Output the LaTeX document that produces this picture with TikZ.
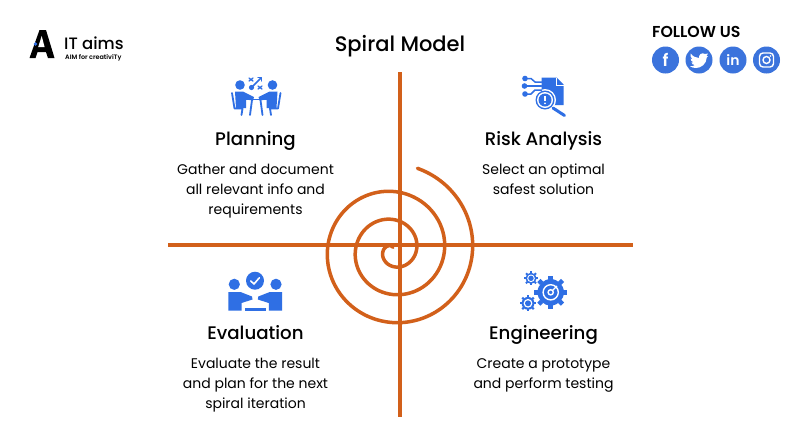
\documentclass[tikz,border=0pt]{standalone}
\usepackage{fontspec}
\setmainfont{Poppins}
\newfontfamily\popm{Poppins Medium}
\newfontfamily\pops{Poppins SemiBold}
\definecolor{org}{HTML}{D2601A}
\definecolor{blu}{HTML}{2F6FE4}
\definecolor{soc}{HTML}{3B73DC}
\tikzset{
  heading/.style={font=\popm\fontsize{18.2}{20}\selectfont,text=black,inner sep=0pt,anchor=base},
  bodytext/.style={font=\fontsize{14}{20}\selectfont,text=black,align=center,inner sep=0pt,anchor=north},
  axisline/.style={org,line width=4.2pt},
  iconline/.style={blu,line width=1.8pt,line cap=round,line join=round},
  soccircle/.style={circle,fill=soc,minimum size=27pt,inner sep=0pt,text=white},
}
\newcommand{\gearicon}[4]{% x y radius teeth
  \fill[blu] (#1,#2) circle (#3);
  \foreach \a in {1,...,#4}{
    \fill[blu,shift={(#1,#2)},rotate=\a*360/#4] (#3-0.5,-#3*0.17) rectangle (#3*1.27,#3*0.17);
  }
}
\begin{document}
\begin{tikzpicture}[x=1pt,y=-1pt]
\useasboundingbox (0,0) rectangle (800,437);
\fill[white] (0,0) rectangle (800,437);
% axes
\coordinate (hl) at (168,244.7); \coordinate (hr) at (633,244.7);
\coordinate (vt) at (399.8,72); \coordinate (vb) at (399.8,417);
\draw[axisline] (hl) -- (hr);
\draw[axisline] (vt) -- (vb);
% spiral
\draw[org,line width=3.5pt,line cap=round,line join=round,smooth,samples=240,domain=1.6:20.13,variable=\t]
  plot ({393+(4.46*\t-4.5)*cos(\t r)},{250-(4.46*\t-4.5)*sin(\t r)});
% title
\node[font=\popm\fontsize{21}{22}\selectfont,inner sep=0pt] (title) at (400,46.5) {Spiral Model};
% quadrants
\node[heading] (pl) at (255.5,145) {Planning};
\node[bodytext] (plt) at (255.5,164) {Gather and document\\all relevant info and\\requirements};
\node[heading] (ri) at (543.5,145) {Risk Analysis};
\node[bodytext] (rit) at (543.5,164) {Select an optimal\\safest solution};
\node[heading] (ev) at (255.5,339) {Evaluation};
\node[bodytext] (evt) at (255.5,358) {Evaluate the result\\and plan for the next\\spiral iteration};
\node[heading] (en) at (543.5,339) {Engineering};
\node[bodytext] (ent) at (543.5,358) {Create a prototype\\and perform testing};
% logo
\fill[black] (29.5,58) -- (39.5,30) -- (46,30) -- (54.5,58) -- (48,58) -- (46,52) -- (37.5,52) -- (35.5,58) -- cycle;
\fill[white] (41.7,36) -- (44.6,47) -- (38.2,47) -- cycle;
\fill[blu] (35.5,44) circle (1.8);
\node[font=\popm\fontsize{16.5}{17}\selectfont,anchor=west,inner sep=0pt] (lg) at (64,43) {IT aims};
\node[font=\pops\fontsize{6.4}{7}\selectfont,anchor=base west,inner sep=0pt] (lgs) at (65,59.5) {AIM for creativiTy};
% social
\node[font=\pops\fontsize{15.8}{16}\selectfont,anchor=west,inner sep=0pt] (fu) at (652,32) {FOLLOW US};
\node[soccircle,font=\pops\fontsize{17}{17}\selectfont] (fb) at (665.5,60) {f};
\node[soccircle] (tw) at (699,60) {};
\node[soccircle,font=\pops\fontsize{14}{14}\selectfont] (li) at (733,60) {in};
\node[soccircle] (ig) at (766.5,60) {};
\fill[white] (690.5,53.5) .. controls (693,56.5) and (696,58) .. (699,58) .. controls (698.5,54.5) and (702,52) .. (705,54) -- (708,53.5) -- (706.5,56) -- (708,56) -- (706.8,57.5) .. controls (706.5,64) and (701,68) .. (696,68) .. controls (693.5,68) and (691.5,67.3) .. (690,66.3) .. controls (692,66.3) and (693.5,66) .. (695,65) .. controls (693,65) and (692,64) .. (691.5,62.5) -- (693.3,62.3) .. controls (691.5,61.5) and (690.7,60.3) .. (690.7,58.7) -- (692.5,59.2) .. controls (690.5,57.5) and (690,55.5) .. (690.5,53.5) -- cycle;
\draw[white,line width=1.4pt,rounded corners=3.5pt] (759.5,53) rectangle (773.5,67);
\draw[white,line width=1.4pt] (766.5,60) circle (3.5);
\fill[white] (770.5,56) circle (0.9);
% planning icon
\fill[blu] (240,85) circle (4.8) (272.5,85) circle (4.8);
\fill[blu] (235,91.5) -- (243,91.5) -- (254,97) -- (253,100.5) -- (246,99.5) -- (246,108) -- (236,108) -- cycle;
\fill[blu] (277.5,91.5) -- (269.5,91.5) -- (258.5,97) -- (259.5,100.5) -- (266.5,99.5) -- (266.5,108) -- (276.5,108) -- cycle;
\draw[iconline] (246,99.5) -- (266.5,99.5);
\draw[iconline] (252,100) -- (250,115) (260.5,100) -- (262.5,115);
\draw[iconline] (232,93) -- (234.5,108.5) -- (242.5,108.5) -- (241.5,115);
\draw[iconline] (280.5,93) -- (278,108.5) -- (270,108.5) -- (271,115);
\fill[blu] (251.5,87.5) circle (2.6);
\draw[iconline,line width=1.5pt] (252,87) -- (261,78);
\draw[iconline,line width=1.4pt] (258,77.5) -- (261.5,77.5) -- (261.5,81);
\draw[iconline,line width=1.3pt] (249,78) -- (253,81) (253,78) -- (249,81) (258,86) -- (262,89) (262,86) -- (258,89);
% risk icon
\fill[blu] (541.5,77.5) -- (556.5,77.5) -- (563.5,84.5) -- (563.5,105) -- (541.5,105) -- cycle;
\draw[white,line width=1pt] (556,77.5) -- (556,85) -- (563.5,85);
\fill[white] (545,100) circle (11);
\fill[blu] (545,100) circle (9.5);
\fill[white] (545,100) circle (8);
\fill[blu] (545,100) circle (6.5);
\draw[white,line width=1.6pt] (545,96) -- (545,101);
\fill[white] (545,103.3) circle (1);
\draw[iconline,line width=3pt] (553,108) -- (564.5,115.5);
\fill[blu] (525,78.5) circle (2.8) (524.5,86) circle (2.8) (525,94) circle (2.8);
\draw[iconline,line width=1.5pt] (525,78.5) -- (531,78.5) -- (535,82) -- (541.5,82);
\draw[iconline,line width=1.5pt] (525,86) -- (541.5,86);
\draw[iconline,line width=1.5pt] (525,94) -- (531,94) -- (535,90) -- (541.5,90);
% evaluation icon
\fill[blu] (255,280.7) circle (9);
\draw[white,line width=1.6pt,line cap=round,line join=round] (250.8,281) -- (254,284) -- (259.3,277.8);
\fill[blu] (234.3,284.3) circle (5.6) (276,284.3) circle (5.6);
\fill[blu] (228.3,292) -- (240.5,292) -- (252,296.5) -- (252.5,299.5) -- (241.5,303) -- (241.5,310.5) -- (228.3,310.5) -- cycle;
\fill[blu] (282,292) -- (269.8,292) -- (258.3,296.5) -- (257.8,299.5) -- (268.8,303) -- (268.8,310.5) -- (282,310.5) -- cycle;
\fill[blu] (244.5,308) rectangle (265.5,311);
% engineering icon
\gearicon{550.7}{292.3}{13.2}{8}
\draw[white,line width=1.4pt] (550.7,292.3) circle (7.6);
\draw[white,line width=1.4pt] (550.7,292.3) circle (2.6);
\draw[white,line width=1.3pt] (552.5,290.5) -- (557,286);
\gearicon{531}{278.3}{5.6}{8}
\fill[white] (531,278.3) circle (3.8);
\fill[blu] (531,278.3) circle (2.7);
\gearicon{528}{303.3}{6.4}{8}
\fill[white] (528,303.3) circle (4.4);
\fill[blu] (528,303.3) circle (3);
\end{tikzpicture}
\end{document}
